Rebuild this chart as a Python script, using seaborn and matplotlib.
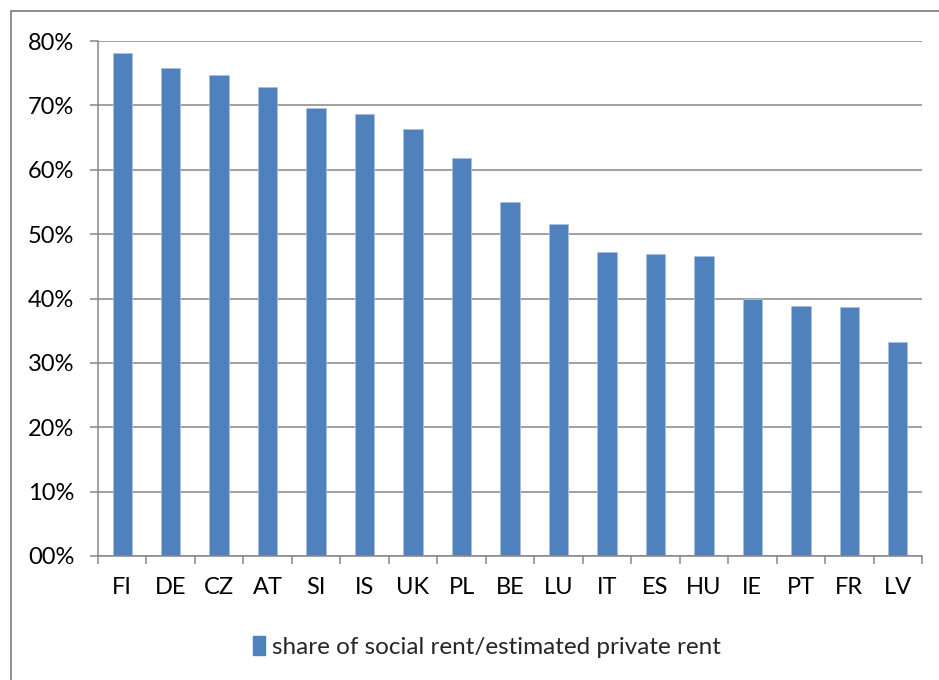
import matplotlib
matplotlib.use("Agg")
import matplotlib.pyplot as plt
import seaborn as sns
import pandas as pd
from matplotlib.lines import Line2D
from matplotlib.patches import Patch
from matplotlib.ticker import FuncFormatter, FixedLocator

countries = ["FI", "DE", "CZ", "AT", "SI", "IS", "UK", "PL", "BE", "LU",
             "IT", "ES", "HU", "IE", "PT", "FR", "LV"]
share = [78.2, 75.8, 74.7, 72.8, 69.6, 68.6, 66.3, 61.9, 55.0, 51.6,
         47.2, 46.9, 46.6, 40.0, 38.8, 38.7, 33.2]
series_label = "share of social rent/estimated private rent"
y_ticks = [0, 10, 20, 30, 40, 50, 60, 70, 80]

df = pd.DataFrame({"country": countries, "share": share})

sns.set_theme(style="white")
plt.rcParams['font.family'] = ['Lato', 'DejaVu Sans']

W, H = 939, 680
fig = plt.figure(figsize=(W / 100, H / 100), dpi=100)
ax = fig.add_axes([98 / W, 1 - 556 / H, (922 - 98) / W, (556 - 41) / H])

bar_color = "#4F81BD"
grid_color = "#868686"
sns.barplot(data=df, x="country", y="share", color=bar_color, width=0.4,
            saturation=1, ax=ax, edgecolor="#A9C0DE", linewidth=0.6)

ax.set_ylim(0, 80)
ax.set_xlim(-0.5, len(countries) - 0.5)
ax.yaxis.set_major_locator(FixedLocator(y_ticks))
ax.yaxis.set_major_formatter(FuncFormatter(lambda v, p: f"{int(v):02d}%"))
ax.grid(axis="y", color=grid_color, linewidth=1.1)
ax.set_axisbelow(True)
ax.set_xlabel("")
ax.set_ylabel("")

for s in ["top", "right"]:
    ax.spines[s].set_visible(False)
for s in ["left", "bottom"]:
    ax.spines[s].set_color(grid_color)
    ax.spines[s].set_linewidth(1.1)

ax.tick_params(axis="y", length=6, width=1.1, color=grid_color, direction="out",
               labelsize=17, pad=11, left=True)
ax.tick_params(axis="x", length=0, labelsize=17, pad=15)
ax.set_xticks([i - 0.5 for i in range(len(countries) + 1)], minor=True)
ax.tick_params(axis="x", which="minor", length=6, width=1.1, color=grid_color,
               direction="out", bottom=True)
for lab in ax.get_xticklabels() + ax.get_yticklabels():
    lab.set_color("#000000")

handle = Patch(facecolor=bar_color, edgecolor=bar_color)
fig.legend([handle], [series_label], loc="center", bbox_to_anchor=(487 / W, 1 - 647 / H),
           frameon=False, fontsize=17.5, handlelength=0.5, handleheight=0.8,
           handletextpad=0.3)

# outer chart frame (only left and top edges are visible in the crop)
fig.add_artist(Line2D([10.5 / W, 10.5 / W], [0, 1 - 10.5 / H], transform=fig.transFigure,
                      color=grid_color, linewidth=1.3))
fig.add_artist(Line2D([10.5 / W, 1], [1 - 10.5 / H, 1 - 10.5 / H], transform=fig.transFigure,
                      color=grid_color, linewidth=1.3))

fig.savefig("out.png", dpi=100)
